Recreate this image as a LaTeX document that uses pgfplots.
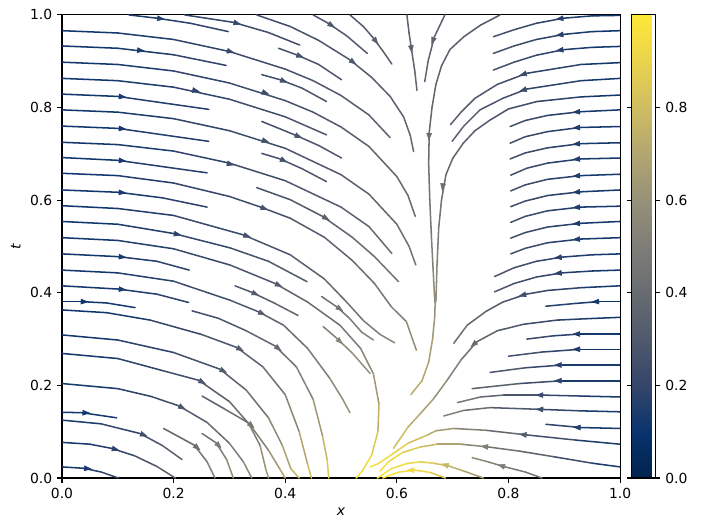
\documentclass[border=0pt]{standalone}
\usepackage{fontspec}
\setmainfont{DejaVu Sans}
\usepackage{pgfplots}
\pgfplotsset{compat=1.18}
\usetikzlibrary{arrows.meta}
\pgfplotsset{
  colormap={cividis}{rgb255=(0,34,78) rgb255=(10,52,110) rgb255=(53,70,107) rgb255=(80,89,108)
    rgb255=(104,108,113) rgb255=(126,125,120) rgb255=(150,145,120) rgb255=(178,166,113)
    rgb255=(207,189,98) rgb255=(234,211,76) rgb255=(254,232,56)},
  sl/.style={mesh, point meta=explicit, line width=1.1pt, forget plot, line cap=round, line join=round},
}
\begin{document}
\begin{tikzpicture}
\path[use as bounding box] (-44.64pt,-37.44pt) rectangle (472.3pt,344.16pt);
\begin{axis}[
  at={(0,0)}, anchor=south west, scale only axis,
  width=401.8pt, height=333.4pt,
  xmin=0, xmax=1, ymin=0, ymax=1,
  xtick={0,0.2,0.4,0.6,0.8,1}, ytick={0,0.2,0.4,0.6,0.8,1},
  /pgf/number format/assume math mode=true,
  xticklabel style={/pgf/number format/.cd, fixed, fixed zerofill, precision=1},
  yticklabel style={/pgf/number format/.cd, fixed, fixed zerofill, precision=1},
  tick align=outside, tick pos=left, major tick length=3.5pt,
  every tick/.style={black, line width=0.8pt},
  axis line style={line width=0.8pt},
  tick label style={font=\fontsize{10}{12}\selectfont},
  label style={font=\fontsize{10}{12}\selectfont},
  xlabel={\textit{x}}, ylabel={\textit{t}},
  colormap name=cividis, point meta min=0, point meta max=1,
  colorbar,
  colorbar style={at={([xshift=25.2pt]parent axis.north east)}, anchor=north west, width=17pt,
    ytick={0,0.2,0.4,0.6,0.8}, yticklabel pos=right,
    /pgf/number format/assume math mode=true,
    yticklabel style={/pgf/number format/.cd, fixed, fixed zerofill, precision=1},
    tick label style={font=\fontsize{10}{12}\selectfont},
    tick align=outside, major tick length=3.5pt,
    every tick/.style={black, line width=0.8pt},
    axis line style={line width=0.8pt}},
]
% ---- lines entering from the top / centre
\addplot[sl] coordinates {(0.12,1.0)[0.15] (0.17,0.993)[0.16] (0.23,0.982)[0.18] (0.298,0.964)[0.21]};
\addplot[sl] coordinates {(0.22,1.0)[0.18] (0.307,0.984)[0.22] (0.37,0.962)[0.25] (0.426,0.935)[0.27]};
\addplot[sl] coordinates {(0.349,1.0)[0.24] (0.409,0.975)[0.26] (0.46,0.945)[0.28] (0.516,0.903)[0.31] (0.555,0.865)[0.33] (0.588,0.824)[0.35] (0.612,0.78)[0.37] (0.624,0.74)[0.39] (0.630,0.705)[0.40]};
\addplot[sl] coordinates {(0.450,1.0)[0.29] (0.477,0.982)[0.30] (0.51,0.955)[0.31] (0.547,0.917)[0.33]};
\addplot[sl] coordinates {(0.516,1.0)[0.31] (0.540,0.975)[0.32] (0.558,0.950)[0.33] (0.575,0.922)[0.34] (0.591,0.894)[0.35]};
\addplot[sl] coordinates {(0.618,1.0)[0.35] (0.622,0.96)[0.35] (0.627,0.92)[0.36] (0.632,0.88)[0.37] (0.636,0.837)[0.38]};
\addplot[sl] coordinates {(0.686,1.0)[0.35] (0.667,0.952)[0.36] (0.656,0.90)[0.37] (0.650,0.856)[0.38]};
\addplot[sl] coordinates {(0.785,1.0)[0.30] (0.75,0.978)[0.32] (0.720,0.953)[0.34] (0.695,0.925)[0.35] (0.680,0.89)[0.36] (0.670,0.85)[0.37] (0.663,0.80)[0.38] (0.658,0.746)[0.40] (0.657,0.68)[0.42] (0.659,0.60)[0.45] (0.662,0.52)[0.49] (0.665,0.45)[0.54] (0.668,0.38)[0.60]};
\addplot[sl] coordinates {(1.0,0.827)[0.10] (0.93,0.823)[0.15] (0.851,0.813)[0.22] (0.80,0.797)[0.27] (0.767,0.773)[0.30] (0.740,0.75)[0.33] (0.719,0.723)[0.36] (0.700,0.69)[0.38] (0.688,0.655)[0.40] (0.680,0.60)[0.43] (0.675,0.54)[0.47] (0.672,0.46)[0.52] (0.670,0.38)[0.60]};
\addplot[sl] coordinates {(0.625,0.18)[0.76] (0.645,0.21)[0.72] (0.657,0.25)[0.68] (0.664,0.30)[0.65] (0.668,0.35)[0.62] (0.669,0.40)[0.58]};
% ---- lines from the left edge
\addplot[sl] coordinates {(0,0.966)[0.10] (0.1,0.961)[0.13] (0.2,0.947)[0.17] (0.3,0.921)[0.22] (0.4,0.883)[0.27] (0.45,0.858)[0.29] (0.5,0.826)[0.32] (0.55,0.784)[0.34] (0.588,0.735)[0.37]};
\addplot[sl] coordinates {(0,0.933)[0.10] (0.1,0.928)[0.13] (0.2,0.914)[0.17] (0.294,0.891)[0.21]};
\addplot[sl] coordinates {(0,0.898)[0.10] (0.1,0.893)[0.13] (0.2,0.879)[0.17] (0.3,0.853)[0.22] (0.4,0.815)[0.27] (0.45,0.79)[0.29] (0.5,0.758)[0.32] (0.55,0.716)[0.35] (0.6,0.651)[0.39] (0.62,0.61)[0.41] (0.633,0.565)[0.43]};
\addplot[sl] coordinates {(0,0.863)[0.10] (0.1,0.858)[0.13] (0.2,0.844)[0.17] (0.3,0.818)[0.22] (0.4,0.780)[0.27] (0.474,0.741)[0.30]};
\addplot[sl] coordinates {(0,0.829)[0.10] (0.1,0.824)[0.13] (0.263,0.796)[0.20]};
\addplot[sl] coordinates {(0,0.795)[0.10] (0.1,0.790)[0.13] (0.2,0.776)[0.17] (0.3,0.750)[0.22] (0.4,0.712)[0.27] (0.5,0.655)[0.33] (0.55,0.613)[0.36] (0.6,0.548)[0.41] (0.622,0.50)[0.44] (0.634,0.460)[0.47]};
\addplot[sl] coordinates {(0,0.760)[0.10] (0.1,0.755)[0.13] (0.263,0.727)[0.20]};
\addplot[sl] coordinates {(0,0.725)[0.10] (0.1,0.720)[0.13] (0.2,0.706)[0.17] (0.3,0.680)[0.22] (0.4,0.642)[0.28] (0.5,0.585)[0.34] (0.55,0.543)[0.38] (0.591,0.485)[0.43]};
\addplot[sl] coordinates {(0,0.692)[0.10] (0.1,0.686)[0.13] (0.26,0.659)[0.20]};
\addplot[sl] coordinates {(0,0.658)[0.10] (0.1,0.653)[0.13] (0.2,0.637)[0.18] (0.3,0.608)[0.23] (0.356,0.585)[0.26] (0.409,0.561)[0.29] (0.47,0.52)[0.34] (0.52,0.47)[0.39] (0.56,0.42)[0.44] (0.59,0.37)[0.50] (0.617,0.338)[0.55] (0.635,0.276)[0.62]};
\addplot[sl] coordinates {(0.388,0.928)[0.26] (0.420,0.914)[0.27] (0.46,0.893)[0.29] (0.501,0.860)[0.31]};
\addplot[sl] coordinates {(0.358,0.871)[0.24] (0.391,0.860)[0.26] (0.43,0.842)[0.28] (0.474,0.813)[0.30]};
\addplot[sl] coordinates {(0.358,0.770)[0.25] (0.417,0.741)[0.28] (0.46,0.718)[0.30] (0.501,0.691)[0.32]};
\addplot[sl] coordinates {(0.358,0.701)[0.25] (0.391,0.689)[0.27] (0.43,0.668)[0.29] (0.474,0.640)[0.31]};
\addplot[sl] coordinates {(0.349,0.627)[0.26] (0.409,0.601)[0.29] (0.467,0.565)[0.33] (0.52,0.52)[0.37] (0.56,0.478)[0.41] (0.603,0.424)[0.47]};
\addplot[sl] coordinates {(0,0.622)[0.10] (0.101,0.617)[0.13] (0.18,0.605)[0.16] (0.260,0.585)[0.20]};
\addplot[sl] coordinates {(0,0.588)[0.10] (0.1,0.582)[0.13] (0.2,0.567)[0.18] (0.325,0.525)[0.26] (0.409,0.482)[0.31] (0.47,0.43)[0.37] (0.51,0.38)[0.42] (0.54,0.34)[0.47] (0.57,0.31)[0.52] (0.596,0.292)[0.56]};
\addplot[sl] coordinates {(0,0.554)[0.10] (0.1,0.548)[0.13] (0.200,0.528)[0.18] (0.301,0.497)[0.24] (0.37,0.468)[0.29] (0.439,0.424)[0.34]};
\addplot[sl] coordinates {(0,0.519)[0.10] (0.1,0.513)[0.14] (0.2,0.495)[0.19] (0.301,0.460)[0.26] (0.382,0.420)[0.32] (0.44,0.38)[0.38] (0.498,0.330)[0.45] (0.535,0.28)[0.52] (0.558,0.225)[0.60] (0.568,0.16)[0.70] (0.566,0.10)[0.80] (0.555,0.05)[0.90] (0.538,0.015)[0.96] (0.527,0.0)[0.98]};
\addplot[sl] coordinates {(0.465,0.392)[0.42] (0.492,0.370)[0.45] (0.515,0.345)[0.48] (0.537,0.315)[0.52] (0.558,0.298)[0.55]};
\addplot[sl] coordinates {(0.468,0.327)[0.50] (0.493,0.301)[0.54] (0.52,0.27)[0.58] (0.552,0.226)[0.62]};
\addplot[sl] coordinates {(0,0.484)[0.10] (0.101,0.478)[0.14] (0.17,0.468)[0.17] (0.228,0.449)[0.20]};
\addplot[sl] coordinates {(0,0.449)[0.10] (0.1,0.443)[0.14] (0.2,0.425)[0.20] (0.301,0.384)[0.28] (0.352,0.359)[0.33] (0.397,0.330)[0.38] (0.44,0.28)[0.45] (0.48,0.215)[0.54] (0.503,0.17)[0.60] (0.516,0.141)[0.64]};
\addplot[sl] coordinates {(0,0.415)[0.10] (0.101,0.408)[0.14] (0.17,0.397)[0.17] (0.227,0.379)[0.20]};
\addplot[sl] coordinates {(0,0.381)[0.10] (0.033,0.381)[0.11] (0.08,0.378)[0.12] (0.131,0.368)[0.15]};
\addplot[sl] coordinates {(0.31,0.415)[0.29] (0.340,0.401)[0.32] (0.38,0.378)[0.35] (0.423,0.351)[0.39]};
\addplot[sl] coordinates {(0.233,0.361)[0.23] (0.28,0.345)[0.28] (0.33,0.318)[0.34] (0.382,0.285)[0.40] (0.42,0.24)[0.47] (0.45,0.17)[0.57] (0.467,0.09)[0.72] (0.475,0.04)[0.82] (0.478,0.0)[0.88]};
\addplot[sl] coordinates {(0,0.363)[0.10] (0.08,0.357)[0.12] (0.158,0.341)[0.17] (0.25,0.31)[0.25] (0.313,0.282)[0.32] (0.36,0.24)[0.39] (0.40,0.18)[0.48] (0.425,0.10)[0.62] (0.440,0.03)[0.78] (0.447,0.0)[0.84]};
\addplot[sl] coordinates {(0,0.309)[0.10] (0.1,0.298)[0.14] (0.2,0.271)[0.22] (0.283,0.235)[0.31] (0.33,0.19)[0.39] (0.37,0.13)[0.50] (0.395,0.07)[0.62] (0.41,0.02)[0.74] (0.425,0.0)[0.80]};
\addplot[sl] coordinates {(0,0.269)[0.10] (0.1,0.258)[0.15] (0.18,0.232)[0.22] (0.245,0.211)[0.28] (0.30,0.165)[0.37] (0.34,0.11)[0.47] (0.37,0.06)[0.58] (0.39,0.02)[0.68] (0.40,0.0)[0.72]};
\addplot[sl] coordinates {(0.251,0.177)[0.30] (0.29,0.15)[0.38] (0.334,0.119)[0.47] (0.355,0.07)[0.56] (0.365,0.02)[0.64] (0.37,0.0)[0.67]};
\addplot[sl] coordinates {(0,0.204)[0.11] (0.1,0.193)[0.16] (0.16,0.176)[0.22] (0.209,0.156)[0.28] (0.26,0.12)[0.36] (0.30,0.075)[0.46] (0.325,0.035)[0.55] (0.34,0.0)[0.62]};
\addplot[sl] coordinates {(0.251,0.096)[0.42] (0.276,0.076)[0.48] (0.295,0.04)[0.55] (0.307,0.0)[0.62]};
\addplot[sl] coordinates {(0.182,0.107)[0.32] (0.237,0.071)[0.42] (0.26,0.035)[0.50] (0.274,0.0)[0.55]};
\addplot[sl] coordinates {(0,0.125)[0.12] (0.07,0.117)[0.16] (0.140,0.096)[0.24] (0.18,0.07)[0.32] (0.215,0.04)[0.40]};
\addplot[sl] coordinates {(0,0.142)[0.11] (0.036,0.141)[0.12] (0.098,0.130)[0.15]};
\addplot[sl] coordinates {(0,0.077)[0.12] (0.05,0.073)[0.14] (0.089,0.064)[0.18] (0.13,0.048)[0.24] (0.17,0.025)[0.32] (0.203,0.0)[0.40]};
\addplot[sl] coordinates {(0,0.024)[0.12] (0.039,0.021)[0.14] (0.07,0.013)[0.18] (0.101,0.0)[0.23]};
% ---- lines from the right edge
\addplot[sl] coordinates {(1.0,0.999)[0.10] (0.95,0.998)[0.13] (0.899,0.993)[0.17] (0.85,0.982)[0.21] (0.81,0.968)[0.25] (0.773,0.953)[0.28]};
\addplot[sl] coordinates {(1.0,0.966)[0.10] (0.95,0.964)[0.13] (0.899,0.958)[0.17] (0.85,0.947)[0.21] (0.81,0.933)[0.25] (0.773,0.917)[0.28]};
\addplot[sl] coordinates {(1.0,0.932)[0.10] (0.95,0.930)[0.13] (0.899,0.925)[0.17] (0.85,0.913)[0.21] (0.81,0.898)[0.25] (0.773,0.881)[0.28]};
\addplot[sl] coordinates {(1.0,0.897)[0.10] (0.93,0.893)[0.15] (0.833,0.874)[0.23] (0.78,0.85)[0.28] (0.74,0.82)[0.32] (0.715,0.79)[0.34] (0.696,0.763)[0.36]};
\addplot[sl] coordinates {(1.0,0.863)[0.10] (0.93,0.858)[0.15] (0.833,0.840)[0.23] (0.79,0.82)[0.27] (0.749,0.795)[0.31] (0.72,0.76)[0.34] (0.699,0.727)[0.36]};
\addplot[sl] coordinates {(1.0,0.795)[0.10] (0.929,0.791)[0.15] (0.87,0.783)[0.20] (0.83,0.772)[0.24] (0.803,0.759)[0.27]};
\addplot[sl] coordinates {(1.0,0.759)[0.10] (0.929,0.757)[0.15] (0.87,0.748)[0.20] (0.83,0.737)[0.24] (0.803,0.723)[0.27]};
\addplot[sl] coordinates {(1.0,0.724)[0.10] (0.929,0.722)[0.15] (0.87,0.713)[0.20] (0.83,0.702)[0.24] (0.803,0.689)[0.27]};
\addplot[sl] coordinates {(1.0,0.691)[0.10] (0.929,0.689)[0.15] (0.87,0.680)[0.20] (0.833,0.669)[0.24] (0.804,0.654)[0.27]};
\addplot[sl] coordinates {(1.0,0.656)[0.10] (0.929,0.653)[0.15] (0.87,0.645)[0.20] (0.83,0.633)[0.24] (0.804,0.620)[0.27]};
\addplot[sl] coordinates {(1.0,0.622)[0.10] (0.929,0.618)[0.15] (0.87,0.610)[0.20] (0.83,0.598)[0.24] (0.804,0.586)[0.27]};
\addplot[sl] coordinates {(1.0,0.587)[0.10] (0.929,0.585)[0.15] (0.87,0.577)[0.20] (0.83,0.565)[0.24] (0.804,0.552)[0.27]};
\addplot[sl] coordinates {(1.0,0.554)[0.10] (0.929,0.550)[0.15] (0.87,0.542)[0.20] (0.83,0.530)[0.24] (0.804,0.518)[0.27]};
\addplot[sl] coordinates {(1.0,0.519)[0.10] (0.929,0.516)[0.15] (0.87,0.508)[0.20] (0.83,0.496)[0.24] (0.804,0.484)[0.27]};
\addplot[sl] coordinates {(1.0,0.484)[0.10] (0.95,0.482)[0.13] (0.896,0.477)[0.18] (0.85,0.468)[0.22] (0.81,0.454)[0.27] (0.775,0.435)[0.31]};
\addplot[sl] coordinates {(1.0,0.449)[0.10] (0.95,0.447)[0.13] (0.896,0.443)[0.18] (0.85,0.434)[0.22] (0.81,0.420)[0.27] (0.775,0.402)[0.31]};
\addplot[sl] coordinates {(1.0,0.415)[0.10] (0.93,0.411)[0.16] (0.87,0.405)[0.21] (0.832,0.397)[0.25] (0.79,0.38)[0.30] (0.76,0.36)[0.35] (0.726,0.330)[0.40] (0.702,0.291)[0.46]};
\addplot[sl] coordinates {(1.0,0.381)[0.10] (0.963,0.381)[0.12] (0.92,0.377)[0.15] (0.867,0.371)[0.19]};
\addplot[sl] coordinates {(1.0,0.347)[0.10] (0.94,0.344)[0.15] (0.887,0.341)[0.19] (0.827,0.332)[0.26] (0.78,0.318)[0.33] (0.743,0.294)[0.40] (0.715,0.255)[0.48] (0.690,0.211)[0.56] (0.665,0.17)[0.64] (0.642,0.139)[0.70] (0.62,0.11)[0.76] (0.594,0.064)[0.85]};
\addplot[sl] coordinates {(1.0,0.311)[0.10] (0.929,0.311)[0.15] (0.88,0.307)[0.20] (0.833,0.300)[0.25]};
\addplot[sl] coordinates {(1.0,0.278)[0.10] (0.929,0.278)[0.15] (0.86,0.272)[0.22] (0.800,0.263)[0.29]};
\addplot[sl] coordinates {(1.0,0.244)[0.10] (0.896,0.244)[0.18] (0.83,0.238)[0.25] (0.767,0.228)[0.35]};
\addplot[sl] coordinates {(1.0,0.210)[0.10] (0.896,0.210)[0.18] (0.82,0.204)[0.28] (0.735,0.193)[0.42]};
\addplot[sl] coordinates {(1.0,0.175)[0.10] (0.93,0.177)[0.16] (0.863,0.179)[0.23] (0.791,0.179)[0.33] (0.75,0.175)[0.42] (0.709,0.163)[0.52]};
\addplot[sl] coordinates {(1.0,0.143)[0.10] (0.93,0.145)[0.16] (0.863,0.148)[0.24] (0.767,0.152)[0.37] (0.72,0.146)[0.48] (0.684,0.134)[0.58]};
\addplot[sl] coordinates {(1.0,0.107)[0.10] (0.93,0.109)[0.16] (0.867,0.116)[0.22]};
\addplot[sl] coordinates {(1.0,0.073)[0.10] (0.92,0.082)[0.20] (0.833,0.093)[0.32] (0.76,0.103)[0.45] (0.702,0.107)[0.60] (0.67,0.102)[0.70] (0.655,0.093)[0.75] (0.62,0.075)[0.85] (0.59,0.05)[0.92] (0.565,0.03)[0.96] (0.552,0.024)[0.97]};
\addplot[sl] coordinates {(1.0,0.024)[0.10] (0.95,0.032)[0.18] (0.881,0.046)[0.30] (0.82,0.058)[0.40] (0.764,0.067)[0.50] (0.715,0.073)[0.62] (0.672,0.073)[0.75] (0.642,0.067)[0.82] (0.61,0.055)[0.90] (0.585,0.035)[0.95] (0.57,0.015)[0.97]};
\addplot[sl] coordinates {(0.860,0.0)[0.45] (0.83,0.013)[0.47] (0.794,0.024)[0.50] (0.76,0.036)[0.55] (0.735,0.044)[0.60]};
\addplot[sl] coordinates {(0.755,0.0)[0.62] (0.72,0.015)[0.70] (0.693,0.026)[0.77] (0.665,0.032)[0.85] (0.642,0.035)[0.90] (0.617,0.031)[0.94] (0.59,0.02)[0.97] (0.565,0.0)[0.98]};
\addplot[sl] coordinates {(0.687,0.0)[0.80] (0.66,0.012)[0.88] (0.632,0.017)[0.94] (0.605,0.013)[0.97] (0.585,0.005)[0.98] (0.575,0.0)[0.98]};
% ---- arrow heads
\addplot[forget plot, point meta=\thisrow{c}, line width=0.5pt,
  quiver={u=\thisrow{u}, v=\thisrow{v}, colored=mapped color, scale arrows=1.15},
  -{Triangle[length=5.5pt,width=4pt]}] table {
x y u v c
0.17 0.993 0.0124 -0.0019 0.16
0.307 0.984 0.0121 -0.0037 0.22
0.516 0.903 0.0102 -0.0087 0.31
0.477 0.982 0.0106 -0.0080 0.30
0.558 0.950 0.0078 -0.0118 0.33
0.625 0.935 0.0016 -0.0150 0.36
0.667 0.952 -0.0044 -0.0142 0.36
0.658 0.746 -0.0005 -0.0151 0.40
0.683 0.637 -0.0016 -0.0150 0.41
0.295 0.923 0.0121 -0.0040 0.22
0.134 0.924 0.0125 -0.0013 0.14
0.358 0.834 0.0119 -0.0046 0.24
0.233 0.838 0.0122 -0.0031 0.19
0.101 0.824 0.0125 -0.0013 0.13
0.358 0.730 0.0119 -0.0046 0.25
0.101 0.755 0.0125 -0.0013 0.13
0.295 0.680 0.0121 -0.0040 0.23
0.101 0.686 0.0125 -0.0013 0.13
0.356 0.585 0.0117 -0.0053 0.27
0.420 0.914 0.0117 -0.0053 0.27
0.391 0.860 0.0117 -0.0053 0.26
0.417 0.741 0.0116 -0.0058 0.28
0.391 0.689 0.0114 -0.0063 0.27
0.467 0.565 0.0110 -0.0072 0.33
0.101 0.617 0.0125 -0.0013 0.13
0.325 0.525 0.0119 -0.0046 0.26
0.200 0.528 0.0122 -0.0031 0.18
0.382 0.420 0.0114 -0.0063 0.32
0.101 0.478 0.0125 -0.0013 0.14
0.352 0.359 0.0114 -0.0063 0.33
0.101 0.408 0.0125 -0.0013 0.14
0.033 0.381 0.0125 -0.0005 0.11
0.340 0.401 0.0116 -0.0058 0.32
0.492 0.370 0.0104 -0.0083 0.45
0.493 0.301 0.0088 -0.0107 0.54
0.382 0.285 0.0100 -0.0091 0.40
0.313 0.282 0.0112 -0.0068 0.32
0.283 0.235 0.0112 -0.0068 0.31
0.245 0.211 0.0112 -0.0068 0.28
0.209 0.156 0.0112 -0.0068 0.28
0.334 0.119 0.0096 -0.0097 0.47
0.237 0.071 0.0096 -0.0097 0.42
0.276 0.076 0.0088 -0.0107 0.48
0.140 0.096 0.0117 -0.0053 0.24
0.036 0.141 0.0125 -0.0005 0.12
0.089 0.064 0.0121 -0.0037 0.18
0.039 0.021 0.0125 -0.0013 0.14
0.899 0.993 -0.0124 -0.0019 0.17
0.899 0.958 -0.0124 -0.0019 0.17
0.899 0.925 -0.0124 -0.0019 0.17
0.833 0.874 -0.0120 -0.0042 0.23
0.833 0.840 -0.0120 -0.0042 0.23
0.929 0.791 -0.0125 -0.0010 0.15
0.929 0.757 -0.0125 -0.0010 0.15
0.929 0.722 -0.0125 -0.0010 0.15
0.929 0.689 -0.0125 -0.0010 0.15
0.929 0.653 -0.0125 -0.0010 0.15
0.929 0.618 -0.0125 -0.0010 0.15
0.929 0.585 -0.0125 -0.0010 0.15
0.929 0.550 -0.0125 -0.0010 0.15
0.929 0.516 -0.0125 -0.0010 0.15
0.896 0.477 -0.0124 -0.0015 0.18
0.896 0.443 -0.0124 -0.0015 0.18
0.832 0.397 -0.0121 -0.0037 0.25
0.963 0.381 -0.0125 -0.0006 0.12
0.743 0.294 -0.0096 -0.0097 0.40
0.929 0.311 -0.0125 0.0 0.15
0.929 0.278 -0.0125 0.0 0.15
0.896 0.244 -0.0125 0.0 0.18
0.896 0.210 -0.0125 0.0 0.18
0.863 0.179 -0.0125 0.0 0.23
0.863 0.148 -0.0125 0.0004 0.24
0.930 0.109 -0.0125 0.0005 0.16
0.833 0.093 -0.0124 0.0014 0.32
0.764 0.067 -0.0124 0.0015 0.50
0.794 0.024 -0.0120 0.0042 0.50
0.693 0.026 -0.0120 0.0042 0.77
0.632 0.017 -0.0125 0.0 0.94
};
\end{axis}
\end{tikzpicture}
\end{document}
